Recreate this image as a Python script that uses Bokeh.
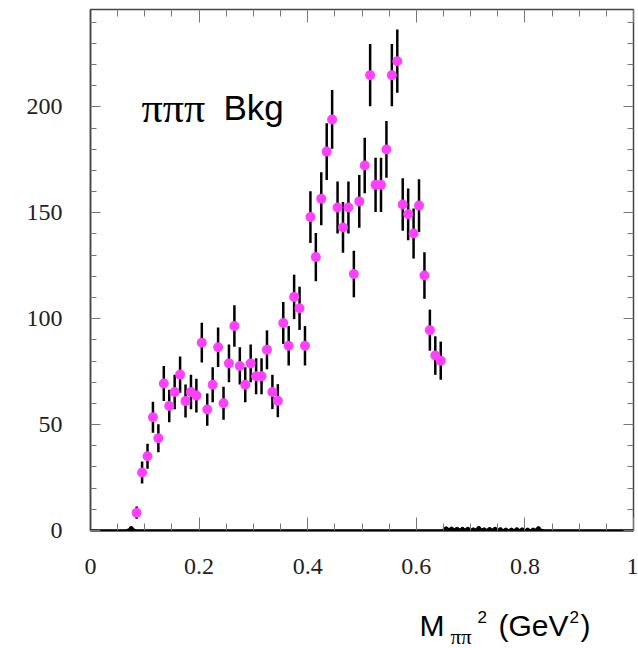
from bokeh.plotting import figure
from bokeh.models import Range1d, FixedTicker, LinearAxis, Label, ColumnDataSource
from bokeh.layouts import column
from bokeh.embed import file_html
from bokeh.resources import INLINE

# ---- data ----
mass2 = [0.085, 0.095, 0.105, 0.115, 0.125, 0.135, 0.145, 0.155, 0.165, 0.175,
         0.185, 0.195, 0.205, 0.215, 0.225, 0.235, 0.245, 0.255, 0.265, 0.275,
         0.285, 0.295, 0.305, 0.315, 0.325, 0.335, 0.345, 0.355, 0.365, 0.375,
         0.385, 0.395, 0.405, 0.415, 0.425, 0.435, 0.445, 0.455, 0.465, 0.475,
         0.485, 0.495, 0.505, 0.515, 0.525, 0.535, 0.545, 0.555, 0.565, 0.575,
         0.585, 0.595, 0.605, 0.615, 0.625, 0.635, 0.645]
counts = [8.4, 27.4, 35.1, 53.5, 43.6, 69.4, 58.8, 65.4, 73.6, 61.1,
          65.4, 63.7, 88.7, 57.1, 68.8, 86.5, 60.1, 78.9, 96.6, 77.7,
          68.8, 78.9, 72.8, 72.8, 85.3, 65.4, 61.3, 98.0, 87.2, 110.3,
          104.9, 87.2, 148.0, 129.1, 156.6, 178.9, 194.1, 152.5, 143.1, 152.5,
          121.1, 155.4, 172.3, 215.0, 163.2, 163.2, 179.9, 215.0, 221.6, 153.9,
          149.3, 140.2, 153.4, 120.4, 94.6, 82.6, 80.2]
errors = [2.9, 5.2, 5.9, 7.3, 6.6, 8.3, 7.7, 8.1, 8.6, 7.8,
          8.1, 8.0, 9.4, 7.6, 8.3, 9.3, 7.8, 8.9, 9.8, 8.8,
          8.3, 8.9, 8.5, 8.5, 9.2, 8.1, 7.8, 9.9, 9.3, 10.5,
          10.2, 9.3, 12.2, 11.4, 12.5, 13.4, 13.9, 12.3, 12.0, 12.3,
          11.0, 12.5, 13.1, 14.7, 12.8, 12.8, 13.4, 14.7, 14.9, 12.4,
          12.2, 11.8, 12.4, 11.0, 9.7, 9.1, 9.0]

# second (near-zero) histogram drawn in black
other_x = [0.0, 0.065, 0.075, 0.085, 0.645, 0.655, 0.665, 0.675, 0.685, 0.695,
           0.705, 0.715, 0.725, 0.735, 0.745, 0.755, 0.765, 0.775, 0.785, 0.795,
           0.805, 0.815, 0.825, 0.835, 1.0]
other_y = [0, 0, 1.0, 0, 0, 0.8, 0.7, 0.6, 0.6, 0.6,
           0.3, 1.0, 0.3, 0.5, 0.6, 0.4, 0.2, 0.2, 0.4, 0.3,
           0.2, 0.2, 0.9, 0, 0]

x_ticks = [0, 0.2, 0.4, 0.6, 0.8, 1.0]
x_tick_labels = ["0", "0.2", "0.4", "0.6", "0.8", "1"]
x_minor = [0.05, 0.1, 0.15, 0.25, 0.3, 0.35, 0.45, 0.5, 0.55, 0.65, 0.7, 0.75,
           0.85, 0.9, 0.95]
y_ticks = [0, 50, 100, 150, 200]
y_tick_labels = ["0", "50", "100", "150", "200"]
y_minor = [10, 20, 30, 40, 60, 70, 80, 90, 110, 120, 130, 140, 160, 170, 180,
           190, 210, 220, 230, 240]

# ---- main figure ----
p = figure(width=638, height=600, output_backend="svg", toolbar_location=None,
           x_range=Range1d(0, 1), y_range=Range1d(0, 246),
           min_border_left=90, min_border_right=5, min_border_top=9,
           min_border_bottom=70)
p.background_fill_color = "white"
p.border_fill_color = "white"
p.grid.visible = False
p.outline_line_color = "#444444"
p.outline_line_width = 1.5

xt = FixedTicker(ticks=x_ticks, minor_ticks=x_minor)
yt = FixedTicker(ticks=y_ticks, minor_ticks=y_minor)

def style_axis(ax, ticker, major, minor):
    ax.ticker = ticker
    ax.major_tick_in = major
    ax.major_tick_out = 0
    ax.minor_tick_in = minor
    ax.minor_tick_out = 0
    ax.major_tick_line_color = "#777777"
    ax.minor_tick_line_color = "#777777"
    ax.major_tick_line_width = 1
    ax.minor_tick_line_width = 1

xa = p.xaxis[0]
style_axis(xa, xt, 13, 7)
xa.axis_line_color = "black"
xa.axis_line_width = 2
xa.major_label_overrides = dict(zip(x_ticks, x_tick_labels))
xa.major_label_text_font = "Liberation Serif"
xa.major_label_text_font_size = "24px"
xa.major_label_text_color = "#222222"
xa.major_label_standoff = 28

ya = p.yaxis[0]
style_axis(ya, yt, 10, 6)
ya.axis_line_color = "#444444"
ya.axis_line_width = 1.5
ya.major_label_overrides = dict(zip(y_ticks, y_tick_labels))
ya.major_label_text_font = "Liberation Serif"
ya.major_label_text_font_size = "24px"
ya.major_label_text_color = "#222222"
ya.major_label_standoff = 28

# tick-only mirror axes (top and right), labels not drawn
top = LinearAxis()
style_axis(top, xt, 13, 7)
top.axis_line_color = None
top.major_label_text_color = None
top.major_label_text_font_size = "1px"
top.major_label_standoff = 0
p.add_layout(top, "above")

right = LinearAxis()
style_axis(right, yt, 10, 6)
right.axis_line_color = None
right.major_label_text_color = None
right.major_label_text_font_size = "1px"
right.major_label_standoff = 0
p.add_layout(right, "right")

# ---- data glyphs ----
src = ColumnDataSource(dict(
    x=mass2, y=counts,
    lo=[c - e for c, e in zip(counts, errors)],
    hi=[c + e for c, e in zip(counts, errors)]))

p.line(other_x, other_y, line_color="black", line_width=2)
p.scatter([x for x, y in zip(other_x, other_y) if y > 0],
          [y for y in other_y if y > 0], size=4, color="black")

p.segment(x0="x", y0="lo", x1="x", y1="hi", source=src,
          line_color="black", line_width=2.5)
p.scatter("x", "y", source=src, size=10, fill_color="#ff40ff",
          line_color=None)

# ---- in-plot text ----
p.add_layout(Label(x=51, y=423, x_units="screen", y_units="screen",
                   text="πππ", text_font="Liberation Serif",
                   text_font_size="42px", text_color="black",
                   text_baseline="alphabetic"))
p.add_layout(Label(x=133, y=423, x_units="screen", y_units="screen",
                   text="Bkg", text_font="Liberation Sans",
                   text_font_size="35px", text_color="black",
                   text_baseline="alphabetic"))

# ---- x-axis title strip (own small figure so the text is not clipped) ----
t = figure(width=638, height=48, output_backend="svg", toolbar_location=None,
           x_range=Range1d(90, 633), y_range=Range1d(0, 48),
           x_axis_type=None, y_axis_type=None,
           min_border_left=90, min_border_right=5, min_border_top=0,
           min_border_bottom=0)
t.grid.visible = False
t.outline_line_color = None
t.background_fill_color = "white"
t.border_fill_color = "white"

def lab(x, y, txt, font, size):
    t.add_layout(Label(x=x, y=y, text=txt, text_font=font,
                       text_font_size=size, text_color="black",
                       text_baseline="alphabetic"))

lab(419, 23.5, "M", "Liberation Sans", "30px")
lab(450, 11.5, "ππ", "Liberation Serif", "21px")
lab(477, 32.0, "2", "Liberation Sans", "17px")
lab(498, 23.5, "(GeV", "Liberation Sans", "30px")
lab(569, 32.0, "2", "Liberation Sans", "17px")
lab(580, 23.5, ")", "Liberation Sans", "30px")

layout = column(p, t, spacing=0)
open("out.html", "w").write(file_html(layout, INLINE))
